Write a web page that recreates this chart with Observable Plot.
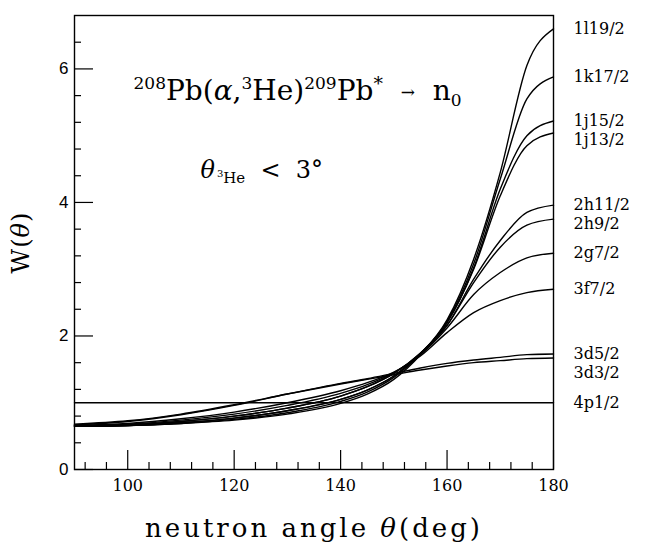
<!DOCTYPE html>
<html><head><meta charset="utf-8">
<script src="https://cdn.jsdelivr.net/npm/d3@7"></script>
<script src="https://cdn.jsdelivr.net/npm/@observablehq/plot@0.6"></script>
<style>body{margin:0;background:#fff} #chart{width:645px;height:550px}</style>
</head><body><div id="chart"></div>
<script>
// neutron angle (deg)
const angles = [90, 100, 110, 120, 130, 140, 145, 150, 155, 160, 165, 170, 175, 180];
// W(theta) for each orbital
const w_1l19 = [0.65, 0.66, 0.69, 0.74, 0.83, 0.99, 1.13, 1.35, 1.72, 2.24, 3.15, 4.45, 6.05, 6.60];
const w_1k17 = [0.65, 0.66, 0.69, 0.75, 0.85, 1.02, 1.16, 1.38, 1.73, 2.22, 3.08, 4.35, 5.55, 5.88];
const w_1j15 = [0.65, 0.66, 0.70, 0.77, 0.88, 1.05, 1.19, 1.40, 1.74, 2.20, 3.02, 4.20, 5.00, 5.22];
const w_1j13 = [0.65, 0.66, 0.70, 0.77, 0.88, 1.05, 1.19, 1.40, 1.74, 2.20, 3.00, 4.10, 4.85, 5.04];
const w_2h11 = [0.65, 0.67, 0.72, 0.80, 0.92, 1.10, 1.24, 1.44, 1.74, 2.16, 2.85, 3.43, 3.85, 3.96];
const w_2h9  = [0.65, 0.67, 0.72, 0.80, 0.92, 1.10, 1.24, 1.44, 1.74, 2.16, 2.80, 3.33, 3.66, 3.75];
const w_2g7  = [0.66, 0.68, 0.74, 0.83, 0.96, 1.14, 1.27, 1.45, 1.72, 2.12, 2.62, 2.95, 3.17, 3.24];
const w_3f7  = [0.66, 0.69, 0.76, 0.86, 1.00, 1.18, 1.30, 1.46, 1.70, 2.05, 2.35, 2.53, 2.65, 2.70];
const w_3d5  = [0.67, 0.72, 0.82, 0.96, 1.13, 1.29, 1.36, 1.44, 1.52, 1.59, 1.64, 1.68, 1.72, 1.73];
const w_3d3  = [0.68, 0.73, 0.83, 0.97, 1.13, 1.28, 1.35, 1.42, 1.49, 1.55, 1.60, 1.63, 1.66, 1.67];
const w_4p1  = [1.00, 1.00, 1.00, 1.00, 1.00, 1.00, 1.00, 1.00, 1.00, 1.00, 1.00, 1.00, 1.00, 1.00];

const orbitals = ["1l19/2", "1k17/2", "1j15/2", "1j13/2", "2h11/2", "2h9/2", "2g7/2", "3f7/2", "3d5/2", "3d3/2", "4p1/2"];
const seriesValues = [w_1l19, w_1k17, w_1j15, w_1j13, w_2h11, w_2h9, w_2g7, w_3f7, w_3d5, w_3d3, w_4p1];

const xMajorTicks = [100, 120, 140, 160, 180];
const xMinorTicks = [92, 96, 104, 108, 112, 116, 124, 128, 132, 136, 144, 148, 152, 156, 164, 168, 172, 176];
const yMajorTicks = [0, 2, 4, 6];
const yMinorTicks = [0.4, 0.8, 1.2, 1.6, 2.4, 2.8, 3.2, 3.6, 4.4, 4.8, 5.2, 5.6, 6.4];

const titleText = "208Pb(α,3He)209Pb* → n0";
const cutText = "θ3He < 3°";
const xLabel = "neutron angle θ(deg)";
const yLabel = "W(θ)";

// ---- layout ----
const W = 645, H = 550, mL = 74, mR = 92, mT = 15, mB = 81;
const innerW = W - mL - mR, innerH = H - mT - mB;
const xDomain = [90, 180], yDomain = [0, 6.8];
const pxPerUnit = innerH / (yDomain[1] - yDomain[0]);
const pxPerDeg = innerW / (xDomain[1] - xDomain[0]);
const majorLen = 19, minorLen = 7;

const rows = orbitals.flatMap((o, i) => angles.map((a, j) => ({orbital: o, angle: a, w: seriesValues[i][j]})));

// end labels, spread so they don't collide
const ends = orbitals.map((o, i) => ({orbital: o, angle: angles[angles.length - 1], w: seriesValues[i][seriesValues[i].length - 1]}));
const minGap = 19 / pxPerUnit;
const sortedEnds = [...ends].sort((a, b) => b.w - a.w);
sortedEnds.forEach((d, i) => { d.ly = i === 0 ? d.w : Math.min(d.w, sortedEnds[i - 1].ly - minGap); });

const serif = "'DejaVu Serif', serif";

const chart = Plot.plot({
  width: W, height: H,
  marginLeft: mL, marginRight: mR, marginTop: mT, marginBottom: mB,
  style: {fontFamily: serif, fontSize: "16px", color: "#000", background: "#fff", overflow: "visible"},
  x: {domain: xDomain, ticks: xMajorTicks, tickSize: 0, tickPadding: 10, label: null, tickFormat: "d"},
  y: {domain: yDomain, ticks: yMajorTicks, tickSize: 0, tickPadding: 6, label: null, tickFormat: "d"},
  marks: [
    Plot.ruleX(xMajorTicks, {x: d => d, y1: yDomain[0], y2: yDomain[0] + majorLen / pxPerUnit, stroke: "#000", strokeWidth: 1.2}),
    Plot.ruleX(xMinorTicks, {x: d => d, y1: yDomain[0], y2: yDomain[0] + minorLen / pxPerUnit, stroke: "#000", strokeWidth: 1.2}),
    Plot.ruleY(yMajorTicks, {y: d => d, x1: xDomain[0], x2: xDomain[0] + majorLen / pxPerDeg, stroke: "#000", strokeWidth: 1.2}),
    Plot.ruleY(yMinorTicks, {y: d => d, x1: xDomain[0], x2: xDomain[0] + minorLen / pxPerDeg, stroke: "#000", strokeWidth: 1.2}),
    Plot.line(rows, {x: "angle", y: "w", z: "orbital", stroke: "#000", strokeWidth: 1.4, curve: "monotone-x"}),
    Plot.frame({stroke: "#000", strokeWidth: 1.4}),
    Plot.text(ends, {x: "angle", y: "ly", text: "orbital", textAnchor: "start", dx: 20, fontSize: 16, fill: "#000"}),
    Plot.text([titleText], {text: d => d, frameAnchor: "top-left", dx: 59, dy: 84, textAnchor: "start", fontSize: 28, fill: "#000"}),
    Plot.text([cutText], {text: d => d, frameAnchor: "top-left", dx: 126, dy: 162, textAnchor: "start", fontSize: 24, fill: "#000"}),
    Plot.text([xLabel], {text: d => d, frameAnchor: "bottom", dy: 67, textAnchor: "middle", fontSize: 26, fill: "#000"}),
    Plot.text([yLabel], {text: d => d, frameAnchor: "left", dx: -46, rotate: -90, textAnchor: "middle", fontSize: 24, fill: "#000"})
  ]
});

document.getElementById("chart").appendChild(chart);

const svg = d3.select(chart.tagName.toLowerCase() === "svg" ? chart : chart.querySelector("svg"));

// y tick labels in a sans face, like the original
svg.selectAll('[aria-label^="y-axis"] text').style("font-family", "'Liberation Sans', Arial, sans-serif").style("font-size", "17px");
svg.selectAll('[aria-label^="x-axis"] text').style("font-size", "16px");

// rich text (super/subscripts, italics) for the annotations
function rich(el, parts) {
  const t = d3.select(el);
  t.text(null).attr("y", null).attr("dy", null);
  let shift = 0;
  for (const [s, size, off, italic] of parts) {
    const sp = t.append("tspan").attr("dy", off - shift).style("font-size", size + "px").text(s);
    if (italic) sp.style("font-style", "italic");
    shift = off;
  }
}
svg.selectAll("text").each(function() {
  const c = this.textContent;
  if (c === titleText) {
    rich(this, [["208", 17, -11], ["Pb(", 28, 0], ["α", 28, 0, true], [",", 28, 0], ["3", 17, -11], ["He)", 28, 0], ["209", 17, -11], ["Pb", 28, 0], ["*", 19, -10], ["  ", 28, 0], ["→", 17, -2], ["  ", 28, 0], ["n", 28, 0], ["0", 17, 6]]);
  } else if (c === cutText) {
    rich(this, [["θ", 24, 0, true], [" ", 6, 0], ["3", 10, -1], ["He", 15, 5], ["  <  ", 24, 0], ["3°", 24, 0]]);
  } else if (c === xLabel) {
    rich(this, [["neutron angle ", 26, 0], ["θ", 26, 0, true], ["(deg)", 26, 0]]);
    d3.select(this).style("letter-spacing", "3px");
  } else if (c === yLabel) {
    rich(this, [["W(", 24, 0], ["θ", 24, 0, true], [")", 24, 0]]);
    d3.select(this).attr("dy", "0.35em").style("letter-spacing", "1px");
  }
});
</script>
</body></html>
